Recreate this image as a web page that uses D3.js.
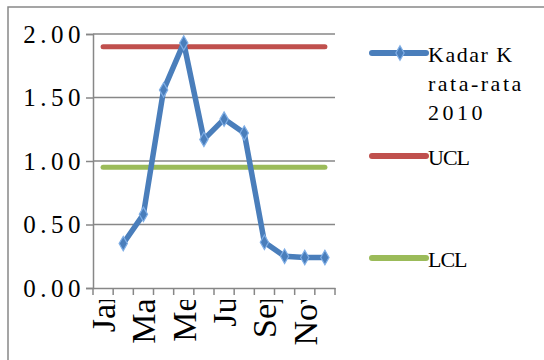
<!DOCTYPE html>
<html><head><meta charset="utf-8">
<script src="https://cdn.jsdelivr.net/npm/d3@7"></script>
<style>body{margin:0;background:#fff}svg{display:block}text{font-family:"Liberation Serif","Times New Roman",serif}</style>
</head><body>
<script>
const categories = ["Jan","Feb","Mar","Apr","Mei","Jun","Jul","Agu","Sep","Okt","Nov","Des"];
const kadarK = [null,0.35,0.58,1.56,1.93,1.17,1.33,1.22,0.36,0.25,0.24,0.24];
const ucl = [1.90,1.90,1.90,1.90,1.90,1.90,1.90,1.90,1.90,1.90,1.90,1.90];
const lcl = [0.95,0.95,0.95,0.95,0.95,0.95,0.95,0.95,0.95,0.95,0.95,0.95];
const yTicks = [0,0.5,1.0,1.5,2.0];
const seriesNames = ["Kadar K rata-rata 2010","UCL","LCL"];

const W=544,H=360;
const svg=d3.select("body").append("svg").attr("width",W).attr("height",H);
svg.append("rect").attr("x",8).attr("y",7).attr("width",W).attr("height",H)
  .attr("fill","#fff").attr("stroke","#888").attr("stroke-width",1.5);

const x=d3.scaleBand().domain(categories).range([93,335]);
const y=d3.scaleLinear().domain([0,2]).range([288,34]);
const cx=d=>x(d)+x.bandwidth()/2;

// gridlines
svg.append("g").selectAll("line").data(yTicks.filter(d=>d>0)).join("line")
  .attr("x1",93).attr("x2",335).attr("y1",d=>y(d)).attr("y2",d=>y(d))
  .attr("stroke","#878787").attr("stroke-width",1.5);

// y axis
const ya=svg.append("g").attr("transform","translate(93,0)")
  .call(d3.axisLeft(y).tickValues(yTicks).tickFormat(d3.format(".2f")).tickSize(7).tickPadding(6));
ya.select(".domain").attr("stroke","#878787").attr("stroke-width",1.5);
ya.selectAll(".tick line").attr("stroke","#878787").attr("stroke-width",1.5);
ya.selectAll("text").attr("font-family",null).attr("font-size",25).attr("fill","#000")
  .attr("letter-spacing",4.5).attr("x",-8);

// x axis
const xa=svg.append("g").attr("transform","translate(0,288)")
  .call(d3.axisBottom(x).tickSize(0).tickFormat(""));
xa.select(".domain").attr("stroke","#878787").attr("stroke-width",1.5);
const bounds=[...categories.map(c=>x(c)),x.range()[1]];
xa.selectAll(".bt").data(bounds).join("line").attr("class","bt")
  .attr("x1",d=>d).attr("x2",d=>d).attr("y1",0).attr("y2",7)
  .attr("stroke","#878787").attr("stroke-width",1.5);

svg.append("clipPath").attr("id","lc").append("rect").attr("x",0).attr("y",300).attr("width",W).attr("height",60);
svg.append("g").attr("clip-path","url(#lc)").selectAll("text")
  .data(categories.filter((d,i)=>i%2===0)).join("text")
  .attr("transform",d=>`translate(${cx(d)+12},287) rotate(-90)`)
  .attr("text-anchor","end").attr("font-size",34).attr("fill","#000")
  .text(d=>d);

// lines
const line=d3.line().defined(d=>d.v!=null).x(d=>cx(d.c)).y(d=>y(d.v));
const mk=arr=>categories.map((c,i)=>({c,v:arr[i]}));
svg.append("path").datum(mk(ucl)).attr("d",line).attr("fill","none").attr("stroke","#C0504D").attr("stroke-width",5).attr("stroke-linecap","round");
svg.append("path").datum(mk(lcl)).attr("d",line).attr("fill","none").attr("stroke","#9BBB59").attr("stroke-width",5).attr("stroke-linecap","round");
svg.append("path").datum(mk(kadarK)).attr("d",line).attr("fill","none").attr("stroke","#4A7EBB").attr("stroke-width",5.5).attr("stroke-linejoin","round").attr("stroke-linecap","round");
svg.append("g").selectAll("path").data(mk(kadarK).filter(d=>d.v!=null)).join("path")
  .attr("d",d3.symbol(d3.symbolDiamond,60)())
  .attr("transform",d=>`translate(${cx(d.c)},${y(d.v)})`)
  .attr("fill","#4A7EBB").attr("stroke","#7FAEE6").attr("stroke-width",1.2);

// legend
const lg=svg.append("g");
const legend=[{name:seriesNames[0],color:"#4A7EBB",y:53,lines:["Kadar K","rata-rata","2010"],ls:[1.5,2.5,3.5],marker:true},
  {name:seriesNames[1],color:"#C0504D",y:156,lines:["UCL"],ls:[-1]},
  {name:seriesNames[2],color:"#9BBB59",y:258,lines:["LCL"],ls:[-1]}];
legend.forEach(l=>{
  lg.append("line").attr("x1",372).attr("x2",426).attr("y1",l.y).attr("y2",l.y)
    .attr("stroke",l.color).attr("stroke-width",6).attr("stroke-linecap","round");
  if(l.marker) lg.append("path").attr("d",d3.symbol(d3.symbolDiamond,60)())
    .attr("transform",`translate(400,${l.y})`).attr("fill",l.color).attr("stroke","#7FAEE6").attr("stroke-width",1.2);
  const t=lg.append("text").attr("font-size",22).attr("fill","#000");
  l.lines.forEach((s,i)=>t.append("tspan").attr("x",428).attr("y",l.y+9+i*29)
    .attr("letter-spacing",l.ls[i]).text(s));
});
</script>
</body></html>
